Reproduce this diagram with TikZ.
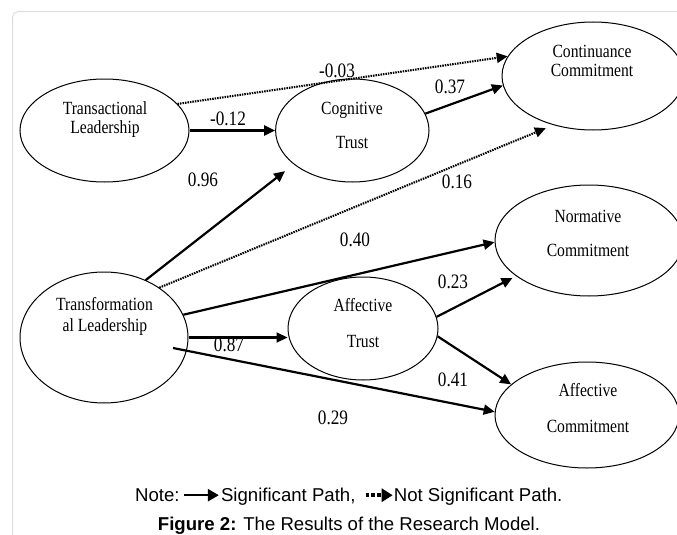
\documentclass[tikz,border=0pt]{standalone}
\usepackage{fontspec}
\setmainfont{Liberation Sans}
\newfontfamily\diagfont[FakeStretch=0.84]{Liberation Serif}
\usetikzlibrary{arrows.meta,calc,shapes.geometric}
\definecolor{framegray}{HTML}{DDDDDD}
\tikzset{
  latent/.style={ellipse, draw, line width=1pt, inner sep=0pt},
  etext/.style={font=\diagfont\fontsize{18.6}{20}\selectfont, anchor=base, inner sep=0pt},
  coef/.style={font=\diagfont\fontsize{20.5}{22}\selectfont, anchor=base, inner sep=0pt},
  sig/.style={line width=2.2pt, -{Triangle[length=11pt,width=10pt]}},
  nsig/.style={line width=2.1pt, dash pattern=on 1.5pt off 1pt, -{Triangle[length=11pt,width=10pt]}},
  legtext/.style={font=\fontsize{18.6}{22}\selectfont, anchor=base west, inner sep=0pt},
  legsig/.style={line width=2.4pt, -{Triangle[length=11pt,width=12pt]}},
  legnsig/.style={line width=4.5pt, dash pattern=on 3.5pt off 2.3pt, -{Triangle[length=11pt,width=13pt]}},
}
\begin{document}
\begin{tikzpicture}[x=1pt,y=-1pt]
\useasboundingbox (0,0) rectangle (677,535);
\clip (0,0) rectangle (677,535);
\draw[framegray, line width=1pt, rounded corners=5pt] (12.7,11.7) rectangle (720,580);

% latent variables
\node[latent, minimum width=169pt, minimum height=103pt] (tl) at (104.5,130.5) {};
\node[latent, minimum width=153.4pt, minimum height=103pt] (ct) at (352.3,130.5) {};
\node[latent, minimum width=182pt, minimum height=108pt] (cc) at (593,76) {};
\node[latent, minimum width=168pt, minimum height=131pt] (tf) at (104,337.5) {};
\node[latent, minimum width=150pt, minimum height=103pt] (at) at (363,328.5) {};
\node[latent, minimum width=188pt, minimum height=111pt] (nc) at (589,240.5) {};
\node[latent, minimum width=184pt, minimum height=106pt] (ac) at (587,415) {};

% texts in ellipses
\node[etext] (tl1) at (105,114.5) {Transactional};
\node[etext] (tl2) at (105,133.5) {Leadership};
\node[etext] (ct1) at (352,114) {Cognitive};
\node[etext] (ct2) at (352,148.3) {Trust};
\node[etext] (cc1) at (592,57.3) {Continuance};
\node[etext] (cc2) at (592,76.7) {Commitment};
\node[etext] (tf1) at (104.5,310.7) {Transformation};
\node[etext] (tf2) at (105,331.7) {al Leadership};
\node[etext] (at1) at (363,311.7) {Affective};
\node[etext] (at2) at (363,347.7) {Trust};
\node[etext] (nc1) at (588,222) {Normative};
\node[etext] (nc2) at (588,256.7) {Commitment};
\node[etext] (ac1) at (588,396.7) {Affective};
\node[etext] (ac2) at (588,432.3) {Commitment};

% paths
\draw[sig] (tl) -- (ct);
\draw[nsig] (tl.20) -- (cc.167);
\draw[sig] (ct.13) -- (cc.186);
\draw[sig, shorten >=11pt] (tf.54) -- (ct.210);
\draw[nsig, shorten >=8pt] (tf.42) -- (cc.231);
\draw[sig] (tf.16) -- (nc.181);
\draw[sig] (tf.east) -- (tf.east -| at.west);
\coordinate (tfin) at (173,348);
\draw[sig] (tfin) -- (ac.178);
\draw[sig, shorten >=4pt] (at.9) -- (nc.206);
\draw[sig] (at.354) -- (ac.158);

% coefficients
\node[coef] (c1) at (337,77.3) {-0.03};
\node[coef] (c2) at (228,125) {-0.12};
\node[coef] (c3) at (450,93.3) {0.37};
\node[coef] (c4) at (203,186.7) {0.96};
\node[coef] (c5) at (457,188.3) {0.16};
\node[coef] (c6) at (355,246) {0.40};
\node[coef] (c7) at (453,288.3) {0.23};
\node[coef] (c8) at (229,351.7) {0.87};
\node[coef] (c9) at (453,386.7) {0.41};
\node[coef] (c10) at (333,424) {0.29};

% legend
\node[legtext] (n1) at (135,501.7) {Note:};
\coordinate (l1a) at ([xshift=4pt,yshift=6.5pt]n1.base east);
\coordinate (l1b) at ([xshift=35pt]l1a);
\draw[legsig] (l1a) -- (l1b);
\node[legtext] (n2) at ([xshift=2pt,yshift=-6.5pt]l1b) {Significant Path,};
\coordinate (l2a) at ([xshift=10pt,yshift=6.5pt]n2.base east);
\coordinate (l2b) at ([xshift=27pt]l2a);
\draw[legnsig] (l2a) -- (l2b);
\node[legtext] (n3) at ([xshift=1pt,yshift=-6.5pt]l2b) {Not Significant Path.};

\node[anchor=base, inner sep=0pt, font=\fontsize{18.6}{22}\selectfont] (cap) at (349,530) {\textbf{Figure 2:} The Results of the Research Model.};
\end{tikzpicture}
\end{document}
